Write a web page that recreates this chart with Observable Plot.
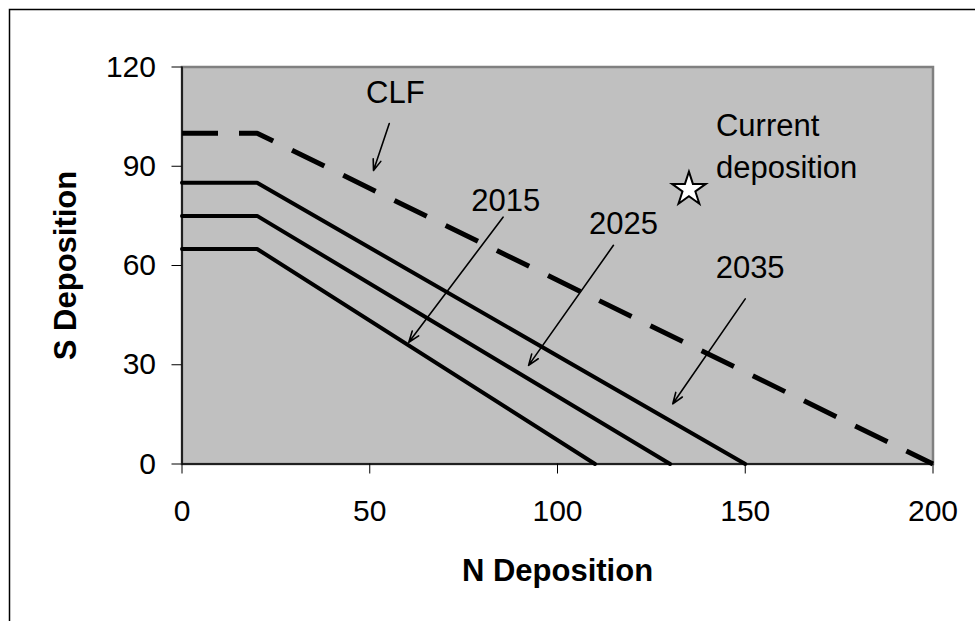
<!DOCTYPE html>
<html>
<head>
<meta charset="utf-8">
<script src="https://cdn.jsdelivr.net/npm/d3@7"></script>
<script src="https://cdn.jsdelivr.net/npm/@observablehq/plot@0.6"></script>
<style>
  html, body { margin: 0; padding: 0; background: #fff; overflow: hidden; }
</style>
</head>
<body>
<div id="chart"></div>
<script>
// ---- data ----
const xTicks = [0, 50, 100, 150, 200];
const yTicks = [0, 30, 60, 90, 120];

const clfN = [0, 20, 200];
const clfS = [100, 100, 0];
const n2035 = [0, 20, 150];
const s2035 = [85, 85, 0];
const n2025 = [0, 20, 130];
const s2025 = [75, 75, 0];
const n2015 = [0, 20, 110];
const s2015 = [65, 65, 0];

const currentN = [135];
const currentS = [83];

const labelText = ["CLF", "2015", "2025", "2035"];
const labelN = [56.8, 86.2, 117.6, 151.3];
const labelS = [112.2, 79.5, 72.4, 59.1];

const currentLabel = ["Current\ndeposition"];
const currentLabelN = [142.2];
const currentLabelS = [96.9];

const arrowN1 = [55.2, 85.5, 114.9, 150.0];
const arrowS1 = [102.9, 74.6, 66.1, 49.9];
const arrowN2 = [51.0, 60.4, 92.3, 130.7];
const arrowS2 = [88.7, 36.8, 29.8, 18.2];

// ---- tables built from arrays ----
const toRows = (name, ns, ss) => ns.map((n, i) => ({series: name, n, s: ss[i]}));
const solidRows = [
  ...toRows("2035", n2035, s2035),
  ...toRows("2025", n2025, s2025),
  ...toRows("2015", n2015, s2015)
];
const clfRows = toRows("CLF", clfN, clfS);
const starRows = currentN.map((n, i) => ({n, s: currentS[i]}));
const labelRows = labelText.map((t, i) => ({t, n: labelN[i], s: labelS[i]}));
const currentRows = currentLabel.map((t, i) => ({t, n: currentLabelN[i], s: currentLabelS[i]}));
const arrowRows = arrowN1.map((n, i) => ({n1: n, s1: arrowS1[i], n2: arrowN2[i], s2: arrowS2[i]}));

const font = "'Liberation Sans', Arial, sans-serif";

const chart = Plot.plot({
  width: 975,
  height: 621,
  marginLeft: 181.5,
  marginRight: 42.5,
  marginTop: 66.5,
  marginBottom: 157.5,
  style: {fontFamily: font, fontSize: "30px", color: "black", background: "white"},
  x: {domain: [0, 200]},
  y: {domain: [0, 120]},
  marks: [
    Plot.frame({fill: "#c0c0c0", stroke: "#808080", strokeWidth: 2.5}),
    Plot.line(clfRows, {x: "n", y: "s", stroke: "black", strokeWidth: 5, strokeDasharray: "36,21", strokeLinecap: "butt", strokeLinejoin: "miter"}),
    Plot.line(solidRows, {x: "n", y: "s", z: "series", stroke: "black", strokeWidth: 4, strokeLinejoin: "miter"}),
    Plot.ruleX([0], {stroke: "black", strokeWidth: 1.5}),
    Plot.ruleY([0], {stroke: "black", strokeWidth: 1.5}),
    Plot.axisX({ticks: xTicks, tickSize: 10, tickPadding: 26, label: null, fontSize: 30, stroke: "black"}),
    Plot.axisY({ticks: yTicks, tickSize: 10, tickPadding: 16, label: null, fontSize: 30, stroke: "black"}),
    Plot.arrow(arrowRows, {x1: "n1", y1: "s1", x2: "n2", y2: "s2", stroke: "black", strokeWidth: 1.6, headLength: 11, headAngle: 40}),
    Plot.dot(starRows, {x: "n", y: "s", symbol: "star", r: 10.6, fill: "white", stroke: "black", strokeWidth: 2}),
    Plot.text(labelRows, {x: "n", y: "s", text: "t", fontSize: 31, fill: "black", textAnchor: "middle"}),
    Plot.text(currentRows, {x: "n", y: "s", text: "t", fontSize: 31, fill: "black", textAnchor: "start", lineHeight: 1.35}),
    Plot.text(["N Deposition"], {frameAnchor: "bottom", textAnchor: "middle", lineAnchor: "middle", dy: 107, fontSize: 31, fontWeight: "bold", fill: "black"}),
    Plot.text(["S Deposition"], {frameAnchor: "left", textAnchor: "middle", lineAnchor: "middle", rotate: -90, dx: -115.5, fontSize: 31, fontWeight: "bold", fill: "black"})
  ]
});

// outer chart-area border (decoration)
d3.select(chart).append("rect")
  .attr("x", 9.5).attr("y", 9.5)
  .attr("width", 1000).attr("height", 1000)
  .attr("fill", "none").attr("stroke", "black").attr("stroke-width", 1.5);

document.getElementById("chart").appendChild(chart);
</script>
</body>
</html>
